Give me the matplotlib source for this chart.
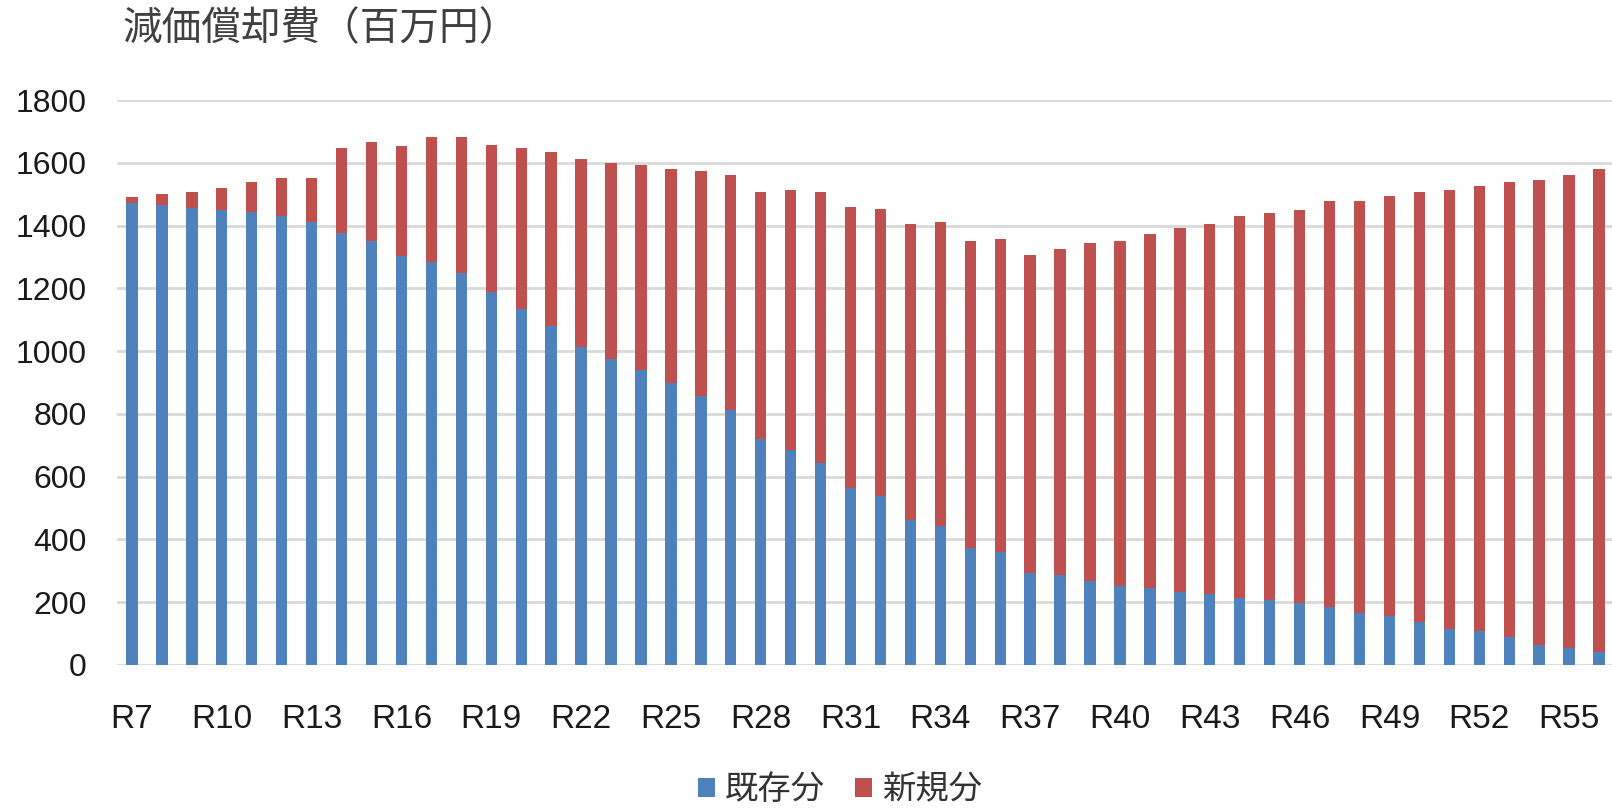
import matplotlib
matplotlib.use("Agg")
import matplotlib.pyplot as plt
import numpy as np

plt.rcParams['font.family'] = ['Liberation Sans', 'Noto Sans CJK JP', 'DejaVu Sans']

# years R7 .. R56
years = ['R' + str(n) for n in range(7, 57)]

# existing assets (既存分)
existing = [1473, 1466, 1455, 1448, 1442, 1430, 1411, 1375, 1351, 1302,
            1285, 1248, 1188, 1134, 1080, 1012, 976, 940, 898, 856,
            812, 721, 684, 642, 564, 540, 462, 444, 372, 360,
            294, 288, 269, 252, 245, 234, 227, 215, 208, 198,
            185, 167, 156, 138, 114, 107, 89, 65, 54, 41]

# totals
totals = [1490, 1502, 1508, 1520, 1539, 1551, 1551, 1647, 1665, 1653,
          1683, 1683, 1658, 1647, 1634, 1611, 1598, 1593, 1580, 1574,
          1562, 1507, 1514, 1507, 1459, 1453, 1405, 1410, 1350, 1356,
          1307, 1325, 1345, 1350, 1374, 1392, 1405, 1429, 1441, 1448,
          1477, 1477, 1495, 1507, 1513, 1526, 1538, 1544, 1562, 1580]

new = [t - e for t, e in zip(totals, existing)]

blue = '#4f81bd'
red = '#c0504d'

fig = plt.figure(figsize=(16.12, 8.10), dpi=100)
W, H = 1612, 810
left, right = 117, 1612
top, bottom = 100, 665
ax = fig.add_axes([left / W, 1 - bottom / H, (right - left) / W, (bottom - top) / H])

x = np.arange(len(years))
ax.bar(x, existing, width=0.38, color=blue, label='既存分', zorder=3)
ax.bar(x, new, width=0.38, bottom=existing, color=red, label='新規分', zorder=3)

ax.set_ylim(0, 1800)
ax.set_xlim(-0.5, -0.5 + (right - left) / 29.94)
ax.set_yticks(range(0, 1801, 200))
ax.set_xticks(x[::3])
ax.set_xticklabels(years[::3])
ax.grid(axis='y', color='#d9d9d9', linewidth=2, zorder=0)
ax.tick_params(axis='both', length=0, colors='#1a1a1a')
ax.tick_params(axis='y', labelsize=23, pad=22)
ax.tick_params(axis='x', labelsize=24, pad=28)
for s in ax.spines.values():
    s.set_visible(False)

fig.text(122 / W, 1 - 29 / H, '減価償却費（百万円）', fontsize=28.5, color='#404040',
         family=['Noto Sans CJK JP', 'DejaVu Sans'], ha='left', va='center')

fig.legend(loc='center', bbox_to_anchor=(840 / W, 1 - 790 / H), ncol=2, frameon=False,
           prop={'family': ['Noto Sans CJK JP', 'DejaVu Sans'], 'size': 24},
           handlelength=0.5, handleheight=0.5, handletextpad=0.3,
           columnspacing=0.9, labelcolor='#333333', borderpad=0.1)

fig.savefig('out.png', dpi=100)
